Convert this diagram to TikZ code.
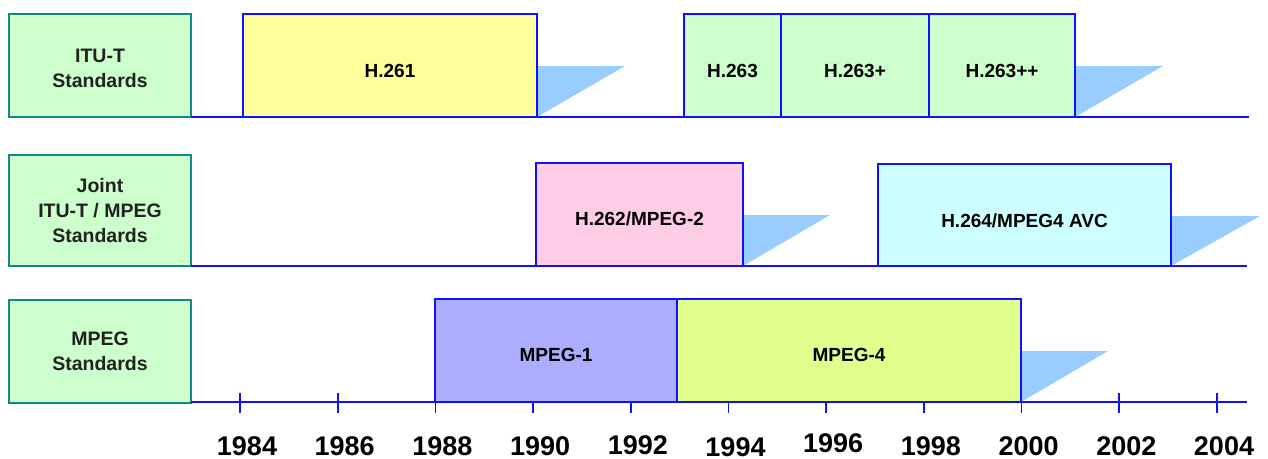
\documentclass[tikz,border=0pt]{standalone}
\usepackage{fontspec}
\setmainfont{Liberation Sans}
\definecolor{catfill}{HTML}{CCFFCC}
\definecolor{catedge}{HTML}{108A80}
\definecolor{labtext}{HTML}{222222}
\definecolor{stdblue}{HTML}{1010FF}
\definecolor{tailblue}{HTML}{99CCFF}
\definecolor{hyellow}{HTML}{FFFF99}
\definecolor{hgreen}{HTML}{CCFFCC}
\definecolor{hpink}{HTML}{FFCCE6}
\definecolor{hcyan}{HTML}{CCFFFF}
\definecolor{hlav}{HTML}{ADADFF}
\definecolor{hlime}{HTML}{E0FF8C}
\newcommand{\dropText}[2]{\raisebox{-#1}[\height][\depth]{#2}}
\begin{document}
\begin{tikzpicture}[x=1pt,y=-1pt,
  cat/.style={draw=catedge, fill=catfill, line width=2.2pt, inner sep=0pt, outer sep=0pt,
    anchor=north west, align=center, text=labtext,
    font=\bfseries\fontsize{19.5}{25}\selectfont},
  std/.style={draw=stdblue, line width=1.7pt, inner sep=0pt, outer sep=0pt,
    anchor=north west, font=\bfseries\fontsize{19}{23}\selectfont},
  axisline/.style={draw=stdblue, line width=1.7pt},
  tail/.style={fill=tailblue},
  year/.style={anchor=base, font=\bfseries\fontsize{27}{30}\selectfont}]
\useasboundingbox (0,0) rectangle (1268,458);

% category boxes
\node[cat, minimum width=182pt, minimum height=103pt] (itu) at (9,14)
  {\dropText{4pt}{\begin{tabular}{@{}c@{}}ITU-T\\Standards\end{tabular}}};
\node[cat, minimum width=182pt, minimum height=111pt] (joint) at (9,155) {Joint\\ITU-T / MPEG\\Standards};
\node[cat, minimum width=182pt, minimum height=103pt] (mpeg) at (9,300) {MPEG\\Standards};

% baselines
\coordinate (e1) at (1249,117);
\coordinate (e2) at (1247,266);
\coordinate (e3) at (1247,402);
\draw[axisline] (itu.south east) -- (e1);
\draw[axisline] (joint.south east) -- (e2);
\draw[axisline] (mpeg.south east |- e3) -- (e3);

% ticks and years
\foreach \yr/\dy [count=\i from 0] in {1984/0,1986/0,1988/0,1990/0,1992/-1,1994/1,1996/-3,1998/0,2000/0,2002/0,2004/0} {
  \pgfmathsetmacro{\xx}{240+97.7*\i}
  \draw[axisline] (\xx,393) -- (\xx,413);
  \node[year] (y\yr) at (\xx+7,455+\dy) {\yr};
}

% tails
\fill[tail] (537,117) -- (537,66) -- (625,66) -- cycle;
\fill[tail] (1075,117) -- (1075,66) -- (1163,66) -- cycle;
\fill[tail] (743,266) -- (743,215) -- (830,215) -- cycle;
\fill[tail] (1171,266) -- (1171,216) -- (1260,216) -- cycle;
\fill[tail] (1021,402) -- (1021,351) -- (1108,351) -- cycle;

% standard boxes
\node[std, fill=hyellow, minimum width=294pt, minimum height=103pt] (h261) at (243,14) {\dropText{5pt}{H.261}};
\node[std, fill=hgreen, minimum width=97pt, minimum height=103pt] (h263) at (684,14) {\dropText{5pt}{H.263}};
\node[std, fill=hgreen, minimum width=148pt, minimum height=103pt] (h263p) at (781,14) {\dropText{5pt}{H.263+}};
\node[std, fill=hgreen, minimum width=146pt, minimum height=103pt] (h263pp) at (929,14) {\dropText{5pt}{H.263++}};
\node[std, fill=hpink, minimum width=207pt, minimum height=103pt] (h262) at (536,163) {\dropText{4pt}{H.262/MPEG-2}};
\node[std, fill=hcyan, minimum width=293pt, minimum height=102pt] (h264) at (878,164) {\dropText{6pt}{H.264/MPEG4 AVC}};
\node[std, fill=hlav, minimum width=242pt, minimum height=103pt] (mp1) at (435,299) {\dropText{4pt}{MPEG-1}};
\node[std, fill=hlime, minimum width=344pt, minimum height=103pt] (mp4) at (677,299) {\dropText{4pt}{MPEG-4}};
\end{tikzpicture}
\end{document}
